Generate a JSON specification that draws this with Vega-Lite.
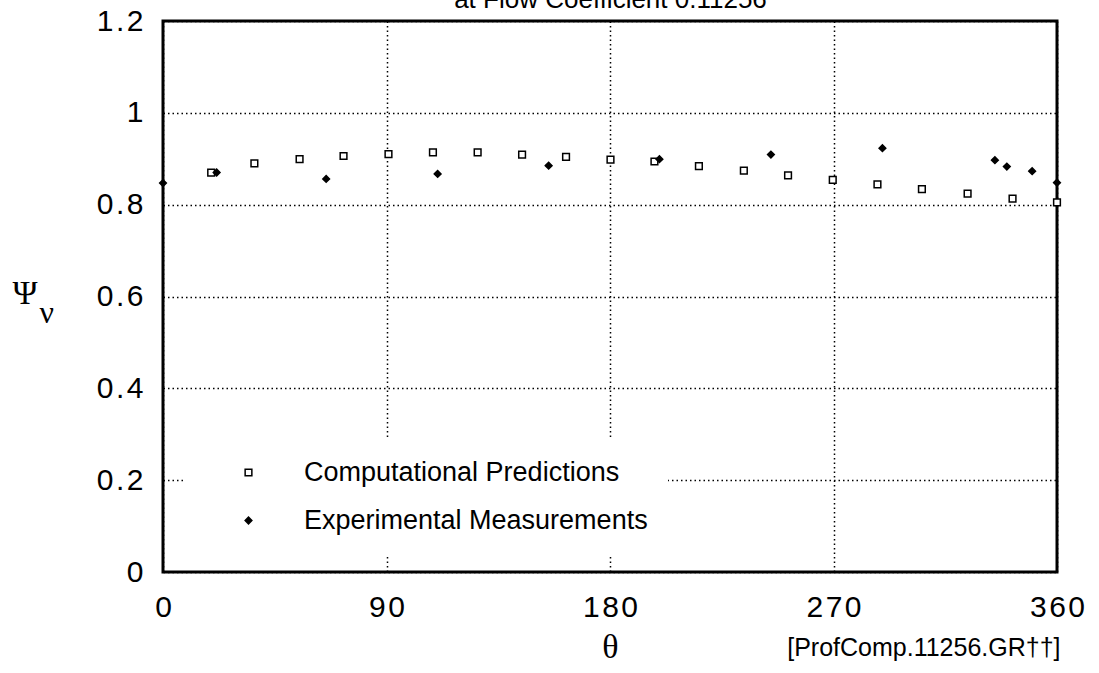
{
  "$schema": "https://vega.github.io/schema/vega-lite/v6.json",
  "width": 894,
  "height": 551,
  "autosize": {"type": "none"},
  "padding": {"left": 163, "top": 21, "right": 42, "bottom": 101},
  "background": "white",
  "config": {
    "view": {"stroke": "black", "strokeWidth": 3},
    "axis": {"labelFont": "Liberation Sans", "labelColor": "black", "labelFontSize": 30, "labelFlush": false, "labelOverlap": false, "ticks": false, "domain": false, "gridColor": "black", "gridDash": [1.5, 3], "gridWidth": 1.5, "gridOpacity": 1, "titleColor": "black", "titleFontWeight": "normal"},
    "legend": {"orient": "none", "legendX": 20, "legendY": 418, "fillColor": "white", "padding": 20, "labelFontSize": 27, "labelFont": "Liberation Sans", "labelColor": "black", "symbolSize": 45, "symbolStrokeColor": "black", "symbolStrokeWidth": 1.5, "symbolOffset": 32, "labelOffset": 42, "rowPadding": 20, "labelLimit": 500}
  },
  "data": {"values": [
    {"theta": 19.4, "psi": 0.870, "series": "Computational Predictions"},
    {"theta": 36.8, "psi": 0.890, "series": "Computational Predictions"},
    {"theta": 55.0, "psi": 0.899, "series": "Computational Predictions"},
    {"theta": 72.7, "psi": 0.906, "series": "Computational Predictions"},
    {"theta": 90.8, "psi": 0.910, "series": "Computational Predictions"},
    {"theta": 108.7, "psi": 0.914, "series": "Computational Predictions"},
    {"theta": 126.7, "psi": 0.914, "series": "Computational Predictions"},
    {"theta": 144.6, "psi": 0.909, "series": "Computational Predictions"},
    {"theta": 162.3, "psi": 0.904, "series": "Computational Predictions"},
    {"theta": 180.2, "psi": 0.898, "series": "Computational Predictions"},
    {"theta": 197.9, "psi": 0.894, "series": "Computational Predictions"},
    {"theta": 215.8, "psi": 0.884, "series": "Computational Predictions"},
    {"theta": 233.9, "psi": 0.874, "series": "Computational Predictions"},
    {"theta": 251.7, "psi": 0.864, "series": "Computational Predictions"},
    {"theta": 269.7, "psi": 0.854, "series": "Computational Predictions"},
    {"theta": 287.7, "psi": 0.844, "series": "Computational Predictions"},
    {"theta": 305.6, "psi": 0.834, "series": "Computational Predictions"},
    {"theta": 324.0, "psi": 0.824, "series": "Computational Predictions"},
    {"theta": 342.1, "psi": 0.813, "series": "Computational Predictions"},
    {"theta": 360.0, "psi": 0.805, "series": "Computational Predictions"},
    {"theta": 0.0, "psi": 0.847, "series": "Experimental Measurements"},
    {"theta": 21.6, "psi": 0.870, "series": "Experimental Measurements"},
    {"theta": 65.7, "psi": 0.856, "series": "Experimental Measurements"},
    {"theta": 110.6, "psi": 0.867, "series": "Experimental Measurements"},
    {"theta": 155.3, "psi": 0.885, "series": "Experimental Measurements"},
    {"theta": 199.9, "psi": 0.899, "series": "Experimental Measurements"},
    {"theta": 244.8, "psi": 0.909, "series": "Experimental Measurements"},
    {"theta": 289.7, "psi": 0.923, "series": "Experimental Measurements"},
    {"theta": 335.0, "psi": 0.897, "series": "Experimental Measurements"},
    {"theta": 339.8, "psi": 0.883, "series": "Experimental Measurements"},
    {"theta": 350.0, "psi": 0.873, "series": "Experimental Measurements"},
    {"theta": 360.0, "psi": 0.848, "series": "Experimental Measurements"}
  ]},
  "resolve": {"axis": {"x": "independent", "y": "independent"}},
  "layer": [
    {
      "mark": {"type": "point", "filled": true, "strokeWidth": 1.5, "opacity": 1, "size": 45},
      "encoding": {
        "x": {"field": "theta", "type": "quantitative", "scale": {"domain": [0, 360], "nice": false},
          "axis": {"values": [0, 90, 180, 270, 360], "grid": true, "labelPadding": 20, "labelExpr": "join(split(datum.label, ''), '\u200a')", "title": "θ", "titleFont": "Liberation Serif", "titleFontSize": 34, "titleX": 447, "titleY": 85, "titleBaseline": "alphabetic", "titleAlign": "center"}},
        "y": {"field": "psi", "type": "quantitative", "scale": {"domain": [0, 1.2], "nice": false},
          "axis": {"values": [0, 0.2, 0.4, 0.6, 0.8, 1, 1.2], "format": "~g", "grid": true, "labelPadding": 20, "labelExpr": "join(split(datum.label, ''), '\u200a')", "title": "Ψ", "titleFont": "Liberation Serif", "titleFontSize": 34, "titleAngle": 0, "titleAlign": "left", "titleBaseline": "alphabetic", "titleX": -151, "titleY": 282}},
        "fill": {"field": "series", "type": "nominal", "scale": {"domain": ["Computational Predictions", "Experimental Measurements"], "range": ["white", "black"]}, "legend": {"title": null}},
        "stroke": {"field": "series", "type": "nominal", "scale": {"domain": ["Computational Predictions", "Experimental Measurements"], "range": ["black", "black"]}, "legend": {"title": null}},
        "shape": {"field": "series", "type": "nominal", "scale": {"domain": ["Computational Predictions", "Experimental Measurements"], "range": ["square", "diamond"]}, "legend": {"title": null}}
      }
    },
    {
      "mark": {"type": "point", "opacity": 0},
      "encoding": {
        "x": {"field": "theta", "type": "quantitative",
          "axis": {"orient": "top", "grid": false, "labels": false, "title": "at Flow Coefficient 0.11256", "titleFont": "Liberation Sans", "titleFontSize": 26, "titleX": 447, "titleY": -14, "titleAlign": "center", "titleBaseline": "alphabetic"}},
        "y": {"field": "psi", "type": "quantitative",
          "axis": {"orient": "right", "grid": false, "labels": false, "title": "[ProfComp.11256.GR††]", "titleFont": "Liberation Sans", "titleFontSize": 25, "titleAngle": 0, "titleAlign": "right", "titleBaseline": "alphabetic", "titleX": 3, "titleY": 634}}
      }
    },
    {
      "mark": {"type": "point", "opacity": 0},
      "encoding": {
        "x": {"field": "theta", "type": "quantitative", "axis": null},
        "y": {"field": "psi", "type": "quantitative",
          "axis": {"orient": "left", "grid": false, "labels": false, "title": "ν", "titleFont": "Liberation Serif", "titleFontSize": 32, "titleAngle": 0, "titleAlign": "left", "titleBaseline": "alphabetic", "titleX": -124, "titleY": 301}}
      }
    }
  ]
}
